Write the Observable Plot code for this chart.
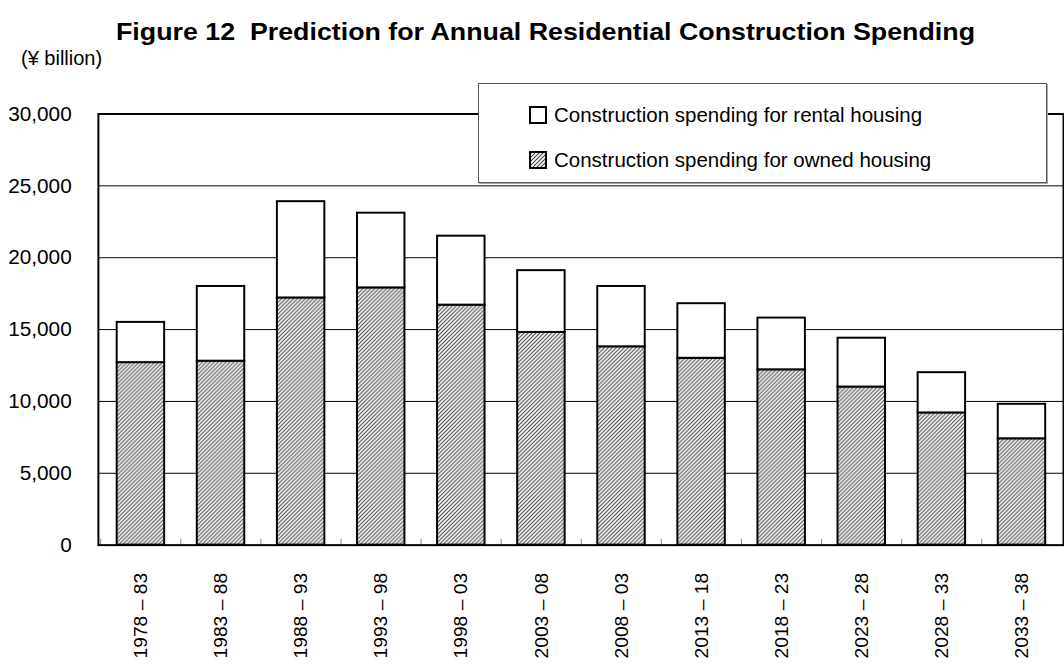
<!DOCTYPE html>
<html>
<head>
<meta charset="utf-8">
<script src="https://cdn.jsdelivr.net/npm/d3@7"></script>
<script src="https://cdn.jsdelivr.net/npm/@observablehq/plot@0.6"></script>
<style>
  html, body { margin: 0; padding: 0; background: #fff; overflow: hidden; }
  #wrap { position: relative; width: 1064px; height: 670px; overflow: hidden; font-family: "Liberation Sans", Arial, sans-serif; color: #000; }
  #header { position: relative; height: 70px; }
  #title { position: absolute; top: 18px; left: 116px; white-space: nowrap; font-weight: bold; font-size: 24px; transform-origin: 0 0; }
  #unit { position: absolute; top: 47px; left: 21px; font-size: 20px; }
  #legend { position: absolute; left: 478px; top: 83px; width: 567px; height: 98px; background: #fff; border: 1px solid #555; box-shadow: 1px 1px 0 #aaa; font-size: 20.5px; }
  .item { position: absolute; left: 50px; display: flex; align-items: center; white-space: nowrap; }
  .sw { width: 14px; height: 14px; border: 2px solid #000; margin-right: 7px; box-sizing: content-box; }
  #chart svg { display: block; }
</style>
</head>
<body>
<svg width="0" height="0" style="position:absolute">
  <defs>
    <pattern id="hatch" patternUnits="userSpaceOnUse" width="4" height="4">
      <rect width="4" height="4" fill="#fff"></rect>
      <path d="M-1,1 l2,-2 M0,4 l4,-4 M3,5 l2,-2" stroke="#444" stroke-width="1.1"></path>
    </pattern>
  </defs>
</svg>
<div id="wrap">
  <div id="header">
    <div id="title">Figure 12&nbsp;&nbsp;Prediction for Annual Residential Construction Spending</div>
    <div id="unit">(¥ billion)</div>
  </div>
  <div id="chart"></div>
  <div id="legend">
    <div class="item" style="top:19px"><div class="sw" style="background:#fff"></div><span>Construction spending for rental housing</span></div>
    <div class="item" style="top:64px"><div class="sw"><svg width="14" height="14" style="display:block"><rect width="14" height="14" fill="url(#hatch)"></rect></svg></div><span>Construction spending for owned housing</span></div>
  </div>
</div>
<script>
// ---- data ----
const categories = ["1978 – 83", "1983 – 88", "1988 – 93", "1993 – 98", "1998 – 03", "2003 – 08",
                    "2008 – 03", "2013 – 18", "2018 – 23", "2023 – 28", "2028 – 33", "2033 – 38"];
const owned  = [12700, 12800, 17200, 17900, 16700, 14800, 13800, 13000, 12200, 11000, 9200, 7400];
const rental = [ 2800,  5200,  6700,  5200,  4800,  4300,  4200,  3800,  3600,  3400, 2800, 2400];
const yTicks = [0, 5000, 10000, 15000, 20000, 25000, 30000];

const rows = categories.map((c, i) => ({period: c, owned: owned[i], total: owned[i] + rental[i]}));

const font = '"Liberation Sans", Arial, sans-serif';
const width = 1076, marginLeft = 99, marginRight = 1;
const step = (width - marginLeft - marginRight) / categories.length;

const chart = Plot.plot({
  width, height: 600,
  marginLeft, marginRight, marginTop: 44, marginBottom: 120,
  style: {fontFamily: font, fontSize: "21px", color: "#000", background: "transparent"},
  x: {domain: categories, paddingInner: 0.41, paddingOuter: 0.205, axis: null},
  y: {domain: [0, 30000], axis: null},
  marks: [
    Plot.gridY(yTicks.filter(v => v > 0 && v < 30000), {stroke: "#000", strokeOpacity: 1, strokeWidth: 1}),
    Plot.barY(rows, {x: "period", y1: 0, y2: "owned", fill: "url(#hatch)", stroke: "#000", strokeWidth: 2}),
    Plot.barY(rows, {x: "period", y1: "owned", y2: "total", fill: "#fff", stroke: "#000", strokeWidth: 2}),
    Plot.ruleX(categories, {x: d => d, dx: -step / 2, y1: 0, y2: 0, insetTop: -6, stroke: "#888", strokeWidth: 1}),
    Plot.axisY(yTicks, {tickSize: 0, tickPadding: 27, tickFormat: d3.format(","), fontSize: 21, label: null}),
    Plot.axisX({tickSize: 0, tickRotate: -90, tickPadding: 28, fontSize: 19.5, label: null}),
    Plot.frame({stroke: "#000", strokeWidth: 2})
  ]
});
document.getElementById("chart").appendChild(chart);

// scale title horizontally to span as in the reference
const t = document.getElementById("title");
const w = t.getBoundingClientRect().width;
t.style.transform = `scaleX(${859 / w})`;
</script>
</body>
</html>
